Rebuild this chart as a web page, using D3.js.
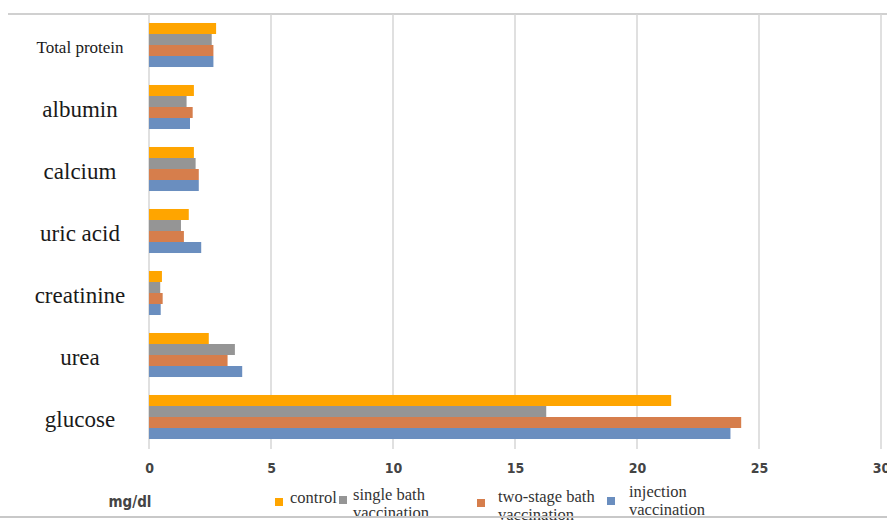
<!DOCTYPE html>
<html>
<head>
<meta charset="utf-8">
<script src="https://cdn.jsdelivr.net/npm/d3@7/dist/d3.min.js"></script>
<style>
  html, body { margin: 0; padding: 0; background: #fff; }
  svg { display: block; }
</style>
</head>
<body>
<svg id="chart" width="887" height="520"></svg>
<script>
// Blood biochemistry (mg/dl) by vaccination treatment
const categories = ["Total protein", "albumin", "calcium", "uric acid", "creatinine", "urea", "glucose"];
const seriesNames = ["control", "single bath vaccination", "two-stage bath vaccination", "injection vaccination"];
const control   = [2.75, 1.84, 1.84, 1.63, 0.53, 2.45, 21.4];
const singleBath = [2.57, 1.54, 1.91, 1.31, 0.46, 3.52, 16.28];
const twoStage  = [2.64, 1.79, 2.04, 1.43, 0.56, 3.22, 24.27];
const injection = [2.64, 1.68, 2.04, 2.14, 0.48, 3.82, 23.83];
const xTicks = [0, 5, 10, 15, 20, 25, 30];
const colors = ["#FFA500", "#959595", "#D67E4C", "#6A8EBF"];

const seriesValues = [control, singleBath, twoStage, injection];
const svg = d3.select("#chart");

const plotTop = 14, plotBottom = 448;
const x = d3.scaleLinear().domain([0, 30]).range([149, 881]);
const y = d3.scaleBand().domain(categories).range([plotTop, plotBottom]).paddingInner(0.29).paddingOuter(0.145);
const ySub = d3.scaleBand().domain(seriesNames).range([0, y.bandwidth()]);

// top frame line
svg.append("line")
  .attr("x1", 8).attr("x2", 887)
  .attr("y1", plotTop).attr("y2", plotTop)
  .attr("stroke", "#d0d0d0").attr("stroke-width", 2);

// vertical gridlines
svg.append("g")
  .selectAll("line")
  .data(xTicks)
  .join("line")
  .attr("x1", d => x(d)).attr("x2", d => x(d))
  .attr("y1", plotTop).attr("y2", plotBottom + 1)
  .attr("stroke", "#d6d6d6").attr("stroke-width", 1.5);

// bars
const groups = svg.append("g")
  .selectAll("g")
  .data(categories)
  .join("g")
  .attr("transform", d => `translate(0,${y(d)})`);

groups.selectAll("rect")
  .data((c, i) => seriesNames.map((s, j) => ({ s, j, v: seriesValues[j][i] })))
  .join("rect")
  .attr("x", x(0))
  .attr("y", d => ySub(d.s))
  .attr("width", d => x(d.v) - x(0))
  .attr("height", ySub.bandwidth())
  .attr("fill", d => colors[d.j]);

// category labels
svg.append("g")
  .selectAll("text")
  .data(categories)
  .join("text")
  .attr("x", 80)
  .attr("y", d => y(d) + y.bandwidth() / 2 + 2)
  .attr("text-anchor", "middle")
  .attr("dominant-baseline", "central")
  .attr("font-family", "'Liberation Serif', 'Times New Roman', serif")
  .attr("font-size", (d, i) => i === 0 ? 17 : 23)
  .attr("fill", "#1a1a1a")
  .text(d => d);

// x axis tick labels
const xAxis = d3.axisBottom(x).tickValues(xTicks).tickSize(0).tickPadding(0);
const axisG = svg.append("g").attr("transform", "translate(0,463)").call(xAxis);
axisG.select(".domain").remove();
axisG.selectAll("text")
  .attr("font-family", "'DejaVu Sans Condensed', 'Liberation Sans', sans-serif")
  .attr("font-weight", "bold")
  .attr("font-size", 14)
  .attr("fill", "#444");

// unit label
svg.append("text")
  .attr("x", 130).attr("y", 507)
  .attr("text-anchor", "middle")
  .attr("font-family", "'DejaVu Sans Condensed', 'Liberation Sans', sans-serif")
  .attr("font-weight", "bold")
  .attr("font-size", 15)
  .attr("fill", "#444")
  .text("mg/dl");

// legend
const legendItems = [
  { lines: ["control"], sx: 275, sy: 498, tx: 290, ty: 503 },
  { lines: ["single bath", "vaccination"], sx: 339, sy: 496, tx: 353, ty: 500 },
  { lines: ["two-stage bath", "vaccination"], sx: 477, sy: 499, tx: 498, ty: 502 },
  { lines: ["injection", "vaccination"], sx: 607, sy: 497, tx: 629, ty: 497 }
];
const legend = svg.append("g");
legendItems.forEach((it, i) => {
  legend.append("rect")
    .attr("x", it.sx).attr("y", it.sy)
    .attr("width", 8).attr("height", 8)
    .attr("fill", colors[i]);
  const t = legend.append("text")
    .attr("x", it.tx).attr("y", it.ty)
    .attr("font-family", "'Liberation Serif', 'Times New Roman', serif")
    .attr("font-size", 16.5)
    .attr("fill", "#333");
  it.lines.forEach((ln, k) => {
    t.append("tspan").attr("x", it.tx).attr("dy", k === 0 ? 0 : 18).text(ln);
  });
});

// bottom frame line, drawn over the legend's second row
svg.append("line")
  .attr("x1", 0).attr("x2", 887)
  .attr("y1", 517).attr("y2", 517)
  .attr("stroke", "#c8c8c8").attr("stroke-width", 2);
</script>
</body>
</html>
